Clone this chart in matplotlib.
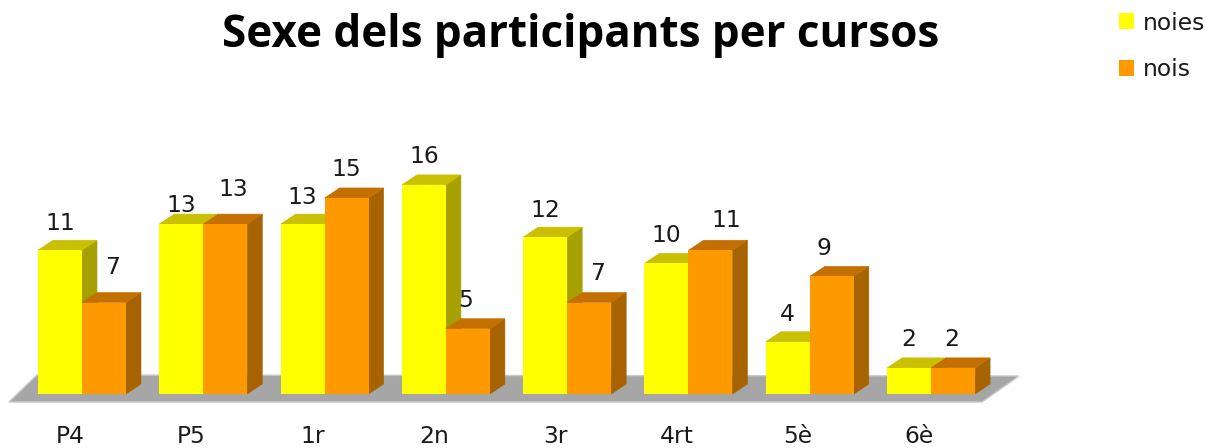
import matplotlib
matplotlib.use("Agg")
import matplotlib.pyplot as plt
from matplotlib.patches import Polygon, Patch

categories = ["P4", "P5", "1r", "2n", "3r", "4rt", "5è", "6è"]
noies = [11, 13, 13, 16, 12, 10, 4, 2]
nois = [7, 13, 15, 5, 7, 11, 9, 2]

# layout (pixels)
W, H = 1223, 448
PX_X, PX_Y = 121.3, 13.07
X0, Y0 = 82, 394
BAR = 44 / PX_X
DX, DY = 15 / PX_X, 10 / PX_Y
YEL = ("#ffff00", "#c8c000", "#a6a000")
ORA = ("#ff9900", "#c47000", "#a66300")
TXT = "#1a1a1a"
FS = 16.8
off_noies = [(0, 27), (0, 19), (0, 27), (0, 28), (0, 27), (0, 28), (0, 27), (0, 28)]
off_nois = [(9, 35), (8, 35), (0, 28), (-2, 28), (8, 29), (16, 30), (-8, 28), (-1, 28)]

plt.rcParams["font.family"] = ["DejaVu Sans"]
fig = plt.figure(figsize=(W / 100, H / 100), dpi=100)
ax = fig.add_axes([0, 1 - Y0 / H, 1, Y0 / H])
ax.set_xlim(-X0 / PX_X, (W - X0) / PX_X)
ax.set_ylim(0, Y0 / PX_Y)
for s in ax.spines.values():
    s.set_visible(False)
ax.set_yticks([])

xs = list(range(len(categories)))
ax.set_xticks([x - 12 / PX_X for x in xs], categories, fontsize=FS, color=TXT)
ax.tick_params(axis="x", length=0, pad=22)

# grey floor
floor = [(-73 / PX_X, -8 / PX_Y), (-45 / PX_X, 19 / PX_Y),
         (937 / PX_X, 18 / PX_Y), (900 / PX_X, -8 / PX_Y)]
ax.add_patch(Polygon(floor, closed=True, fc="#a6a6a6", ec="#c8c8c8", lw=1,
                     clip_on=False, zorder=1))


def bar3d(x, v, cols, z):
    left, right = x, x + BAR
    ax.add_patch(Polygon([(right, 0), (right + DX, DY), (right + DX, v + DY), (right, v)],
                         fc=cols[2], ec=cols[2], lw=0.4, zorder=z, clip_on=False))
    ax.add_patch(Polygon([(left, v), (left + DX, v + DY), (right + DX, v + DY), (right, v)],
                         fc=cols[1], ec=cols[1], lw=0.4, zorder=z, clip_on=False))
    ax.bar(x, v, width=BAR, align="edge", color=cols[0], zorder=z + 0.1)


for i, x in enumerate(xs):
    bar3d(x - BAR, noies[i], YEL, 2 + i * 0.01)
    bar3d(x, nois[i], ORA, 2.5 + i * 0.01)
    ax.annotate(str(noies[i]), (x - BAR / 2, noies[i]), xytext=off_noies[i],
                textcoords="offset pixels", ha="center", va="center",
                fontsize=FS, color=TXT, zorder=5)
    ax.annotate(str(nois[i]), (x + BAR / 2, nois[i]), xytext=off_nois[i],
                textcoords="offset pixels", ha="center", va="center",
                fontsize=FS, color=TXT, zorder=5)

fig.text(581 / W, 1 - 36 / H, "Sexe dels participants per cursos", ha="center", va="center",
         fontsize=31.7, fontweight="bold", family="Open Sans", color="black")

handles = [Patch(fc=YEL[0], ec="none", label="noies"), Patch(fc=ORA[0], ec="none", label="nois")]
fig.legend(handles=handles, loc="upper left", bbox_to_anchor=(1115 / W, 1 - 8 / H),
           frameon=False, fontsize=FS, handlelength=0.68, handleheight=0.68,
           handletextpad=0.36, labelspacing=1.0, labelcolor=TXT,
           borderpad=0.15, borderaxespad=0)

fig.savefig("out.png", dpi=100)
